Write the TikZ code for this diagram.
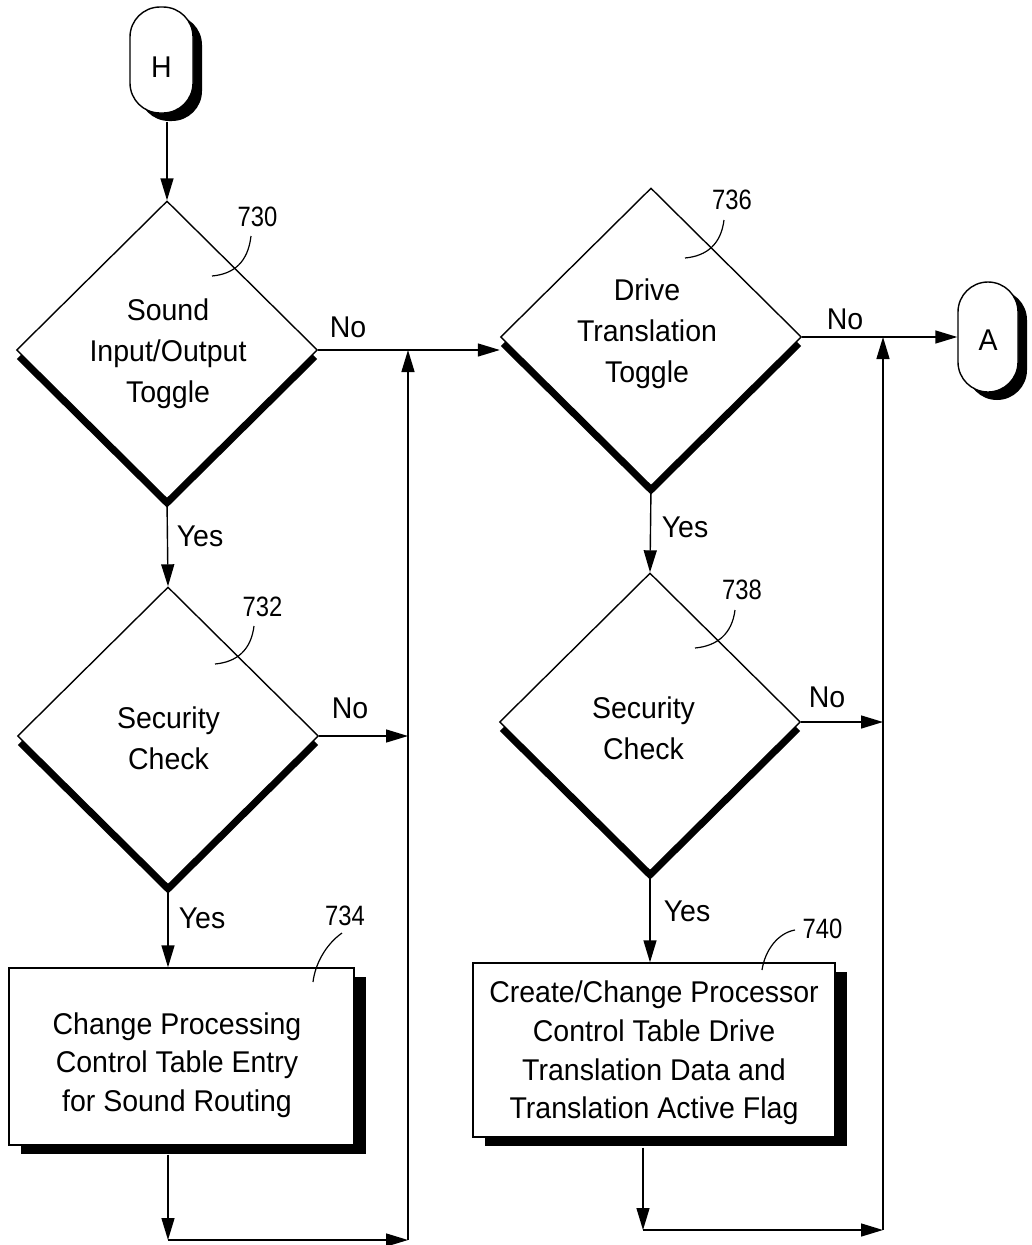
\documentclass[tikz,border=0pt]{standalone}
\usepackage{fontspec}
\setmainfont{Liberation Sans}[FakeStretch=0.95]
\newfontfamily\numfont{Liberation Sans}[FakeStretch=0.85]
\usetikzlibrary{shapes.geometric,shadows,arrows.meta,calc}
\begin{document}
\begin{tikzpicture}[x=1pt,y=-1pt,
  line width=1.4pt,
  txt/.style={font=\fontsize{30}{41}\selectfont, align=center, inner sep=0pt},
  boxtxt/.style={font=\fontsize{30}{38.7}\selectfont, align=center, inner sep=0pt},
  lbl/.style={font=\fontsize{30}{36}\selectfont, inner sep=0pt},
  num/.style={font=\numfont\fontsize{28}{30}\selectfont, inner sep=0pt},
  dec/.style={diamond, draw, fill=white, minimum width=301pt, minimum height=298pt, inner sep=0pt,
    drop shadow={shadow xshift=0pt, shadow yshift=-9pt, opacity=1, fill=black}},
  proc/.style={rectangle, draw, fill=white, inner sep=0pt,
    drop shadow={shadow xshift=12pt, shadow yshift=-9pt, opacity=1, fill=black}},
  term/.style={rectangle, rounded corners=30pt, draw, fill=white, inner sep=0pt,
    font=\fontsize{30}{36}\selectfont,
    drop shadow={shadow xshift=9pt, shadow yshift=-8pt, opacity=1, fill=black}},
  arr/.style={-{Triangle[length=22pt,width=13pt]}},
  leader/.style={line width=1.2pt}
]
\path[use as bounding box, fill=white] (0,0) rectangle (1031,1245);

% terminals
\node[term, minimum width=63pt, minimum height=106pt, text height=34pt] (H) at (161.5,60) {H};
\node[term, minimum width=60pt, minimum height=110pt, text height=27.5pt] (A) at (988,337) {A};

% decisions
\node[dec] (d730) at (167,350) {};
\node[txt] (t730) at (168,354) {Sound\\Input/Output\\Toggle};
\node[dec] (d732) at (168,736) {};
\node[txt] (t732) at (168.5,738) {Security\\Check};
\node[dec] (d736) at (651,337) {};
\node[txt] (t736) at (647,334) {Drive\\Translation\\Toggle};
\node[dec] (d738) at (650,722) {};
\node[txt] (t738) at (643.5,728) {Security\\Check};

% process boxes
\node[proc, minimum width=345pt, minimum height=177pt] (b734) at (181.5,1056.5) {};
\node[boxtxt] (t734) at (177,1065) {Change Processing\\Control Table Entry\\for Sound Routing};
\node[proc, minimum width=362pt, minimum height=174pt] (b740) at (654,1050) {};
\node[boxtxt] (t740) at (654,1053) {Create/Change Processor\\Control Table Drive\\Translation Data and\\Translation Active Flag};

% branch labels
\node[lbl] (no730) at (348,327) {No};
\node[lbl] (no732) at (350,708) {No};
\node[lbl] (no736) at (845,319) {No};
\node[lbl] (no738) at (827,697) {No};
\node[lbl] (y730) at (200,536) {Yes};
\node[lbl] (y732) at (202,918) {Yes};
\node[lbl] (y736) at (685,527) {Yes};
\node[lbl] (y738) at (687,911) {Yes};

% reference numerals
\node[num] (r730) at (257.5,217) {730};
\node[num] (r732) at (262.5,607) {732};
\node[num] (r736) at (732,199.5) {736};
\node[num] (r738) at (742,590) {738};
\node[num] (r734) at (345,916) {734};
\node[num] (r740) at (822.5,929) {740};

% leader coordinates
\coordinate (a730) at (251,236);  \coordinate (e730) at (212,276);
\coordinate (a732) at (254,626);  \coordinate (e732) at (215,664);
\coordinate (a736) at (724,220);  \coordinate (e736) at (685,258);
\coordinate (a738) at (735,610);  \coordinate (e738) at (695,648);
\coordinate (a734) at (342,933);  \coordinate (e734) at (313,982);
\coordinate (a740) at (795,930);  \coordinate (e740) at (762,970);
\draw[leader] (a730) .. controls (248,262) and (234,274) .. (e730);
\draw[leader] (a732) .. controls (251,650) and (237,662) .. (e732);
\draw[leader] (a736) .. controls (721,244) and (707,256) .. (e736);
\draw[leader] (a738) .. controls (732,634) and (717,646) .. (e738);
\draw[leader] (a734) .. controls (325,945) and (315,965) .. (e734);
\draw[leader] (a740) .. controls (778,933) and (765,950) .. (e740);

% connector coordinates
\coordinate (h0) at ($(H.south)+(0,8)$);
\coordinate (xL) at (408,1240);
\coordinate (xR) at (883,1230);
\coordinate (c1) at (d732.south |- xL);
\coordinate (c3) at (643,1230);
\coordinate (j1) at (d730.east -| xL);
\coordinate (j2) at (d736.east -| xR);
\coordinate (s734) at ($(d732.south |- b734.south)+(0,9)$);
\coordinate (s740) at ($(c3 |- b740.south)+(0,10)$);

% connectors
\draw[arr] (d730.north |- h0) -- (d730.north);
\draw[arr] (d730.south) -- (d732.north);
\draw[arr] (d732.south) -- (d732.south |- b734.north);
\draw[arr] (s734) -- (c1);
\draw[arr] (c1) -- (xL);
\draw[arr] (xL) -- (j1);
\draw[arr] (d730.east) -- (d730.east -| d736.west);
\draw[arr] (d732.east) -- (d732.east -| xL);
\draw[arr] (d736.south) -- (d738.north);
\draw[arr] (d738.south) -- (d738.south |- b740.north);
\draw[arr] (s740) -- (c3);
\draw[arr] (c3) -- (xR);
\draw[arr] (xR) -- (j2);
\draw[arr] (d736.east) -- (A.west);
\draw[arr] (d738.east) -- (d738.east -| xR);
\end{tikzpicture}
\end{document}
